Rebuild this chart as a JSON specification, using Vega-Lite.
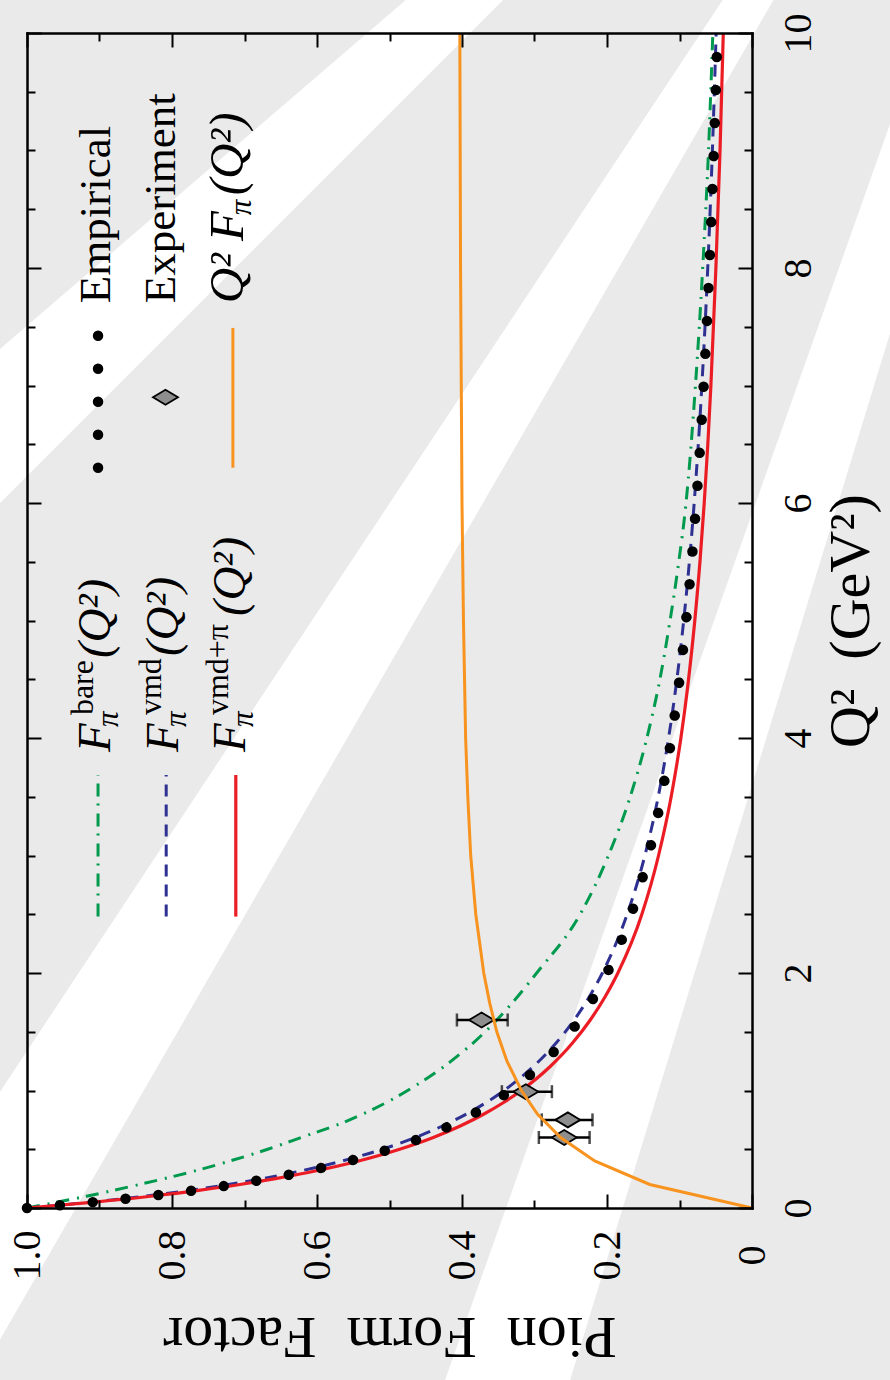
{
  "$schema": "https://vega.github.io/schema/vega-lite/v6.json",
  "width": 725,
  "height": 1175,
  "autosize": {"type": "none"},
  "padding": {"left": 27, "top": 33, "right": 138, "bottom": 172},
  "background": "#eaeaea",
  "config": {"view": {"stroke": null}, "font": "Liberation Serif", "axis": {"labelFont": "Liberation Serif", "titleFont": "Liberation Serif"}},
  "datasets": {
    "bands": [
      {"band": 1, "Q2": 10.451, "a": 0.4455, "b": 0.3159},
      {"band": 1, "Q2": 5.174, "a": 1.44, "b": 1.171},
      {"band": 2, "Q2": 10.451, "a": 0.0221, "b": -0.0455},
      {"band": 2, "Q2": -1.634, "a": 1.3186, "b": 1.0855},
      {"band": 3, "Q2": 10.451, "a": -0.2607, "b": -0.3393},
      {"band": 3, "Q2": -1.634, "a": 0.4331, "b": 0.2593}
    ],
    "emp": [
      {"Q2": 0, "F": 1}, {"Q2": 0.05, "F": 0.90909}, {"Q2": 0.1, "F": 0.83333}, {"Q2": 0.15, "F": 0.76923},
      {"Q2": 0.2, "F": 0.71429}, {"Q2": 0.25, "F": 0.66667}, {"Q2": 0.3, "F": 0.625}, {"Q2": 0.35, "F": 0.58824},
      {"Q2": 0.4, "F": 0.55556}, {"Q2": 0.5, "F": 0.5}, {"Q2": 0.6, "F": 0.45455}, {"Q2": 0.7, "F": 0.41667},
      {"Q2": 0.8, "F": 0.38462}, {"Q2": 0.9, "F": 0.35714}, {"Q2": 1.0, "F": 0.33333}, {"Q2": 1.2, "F": 0.29412},
      {"Q2": 1.4, "F": 0.26316}, {"Q2": 1.6, "F": 0.2381}, {"Q2": 1.8, "F": 0.21739}, {"Q2": 2.0, "F": 0.2},
      {"Q2": 2.25, "F": 0.18182}, {"Q2": 2.5, "F": 0.16667}, {"Q2": 2.75, "F": 0.15385}, {"Q2": 3, "F": 0.14286},
      {"Q2": 3.5, "F": 0.125}, {"Q2": 4, "F": 0.11111}, {"Q2": 4.5, "F": 0.1}, {"Q2": 5, "F": 0.09091},
      {"Q2": 5.5, "F": 0.08333}, {"Q2": 6, "F": 0.07692}, {"Q2": 6.5, "F": 0.07143}, {"Q2": 7, "F": 0.06667},
      {"Q2": 7.5, "F": 0.0625}, {"Q2": 8, "F": 0.05882}, {"Q2": 8.5, "F": 0.05556}, {"Q2": 9, "F": 0.05263},
      {"Q2": 9.5, "F": 0.05}, {"Q2": 10, "F": 0.04762}
    ],
    "bare": [
      {"Q2": 0, "F": 1}, {"Q2": 0.1, "F": 0.918}, {"Q2": 0.2, "F": 0.845}, {"Q2": 0.3, "F": 0.778},
      {"Q2": 0.4, "F": 0.72}, {"Q2": 0.5, "F": 0.668}, {"Q2": 0.6, "F": 0.622}, {"Q2": 0.75, "F": 0.555},
      {"Q2": 1.0, "F": 0.475}, {"Q2": 1.25, "F": 0.415}, {"Q2": 1.5, "F": 0.368}, {"Q2": 1.75, "F": 0.33},
      {"Q2": 2.0, "F": 0.297}, {"Q2": 2.5, "F": 0.237}, {"Q2": 3.0, "F": 0.198}, {"Q2": 3.5, "F": 0.168},
      {"Q2": 4.0, "F": 0.145}, {"Q2": 4.5, "F": 0.127}, {"Q2": 5.0, "F": 0.113}, {"Q2": 5.5, "F": 0.101},
      {"Q2": 6.0, "F": 0.091}, {"Q2": 7.0, "F": 0.078}, {"Q2": 8.0, "F": 0.068}, {"Q2": 9.0, "F": 0.06},
      {"Q2": 10, "F": 0.054}
    ],
    "vmd": [
      {"Q2": 0, "F": 1}, {"Q2": 0.05, "F": 0.91228}, {"Q2": 0.1, "F": 0.83871}, {"Q2": 0.15, "F": 0.77612},
      {"Q2": 0.2, "F": 0.72222}, {"Q2": 0.3, "F": 0.63415}, {"Q2": 0.4, "F": 0.56522}, {"Q2": 0.5, "F": 0.5098},
      {"Q2": 0.6, "F": 0.46429}, {"Q2": 0.7, "F": 0.42623}, {"Q2": 0.8, "F": 0.39394}, {"Q2": 1.0, "F": 0.34211},
      {"Q2": 1.2, "F": 0.30233}, {"Q2": 1.4, "F": 0.27083}, {"Q2": 1.6, "F": 0.24528}, {"Q2": 1.8, "F": 0.22414},
      {"Q2": 2.0, "F": 0.20635}, {"Q2": 2.5, "F": 0.17219}, {"Q2": 3, "F": 0.14773}, {"Q2": 3.5, "F": 0.12935},
      {"Q2": 4, "F": 0.11504}, {"Q2": 4.5, "F": 0.10359}, {"Q2": 5, "F": 0.0942}, {"Q2": 5.5, "F": 0.08637},
      {"Q2": 6, "F": 0.07975}, {"Q2": 7, "F": 0.06915}, {"Q2": 8, "F": 0.06103}, {"Q2": 9, "F": 0.05462},
      {"Q2": 10, "F": 0.04943}
    ],
    "vmdpi": [
      {"Q2": 0, "F": 1}, {"Q2": 0.05, "F": 0.9071}, {"Q2": 0.1, "F": 0.8293}, {"Q2": 0.15, "F": 0.7632},
      {"Q2": 0.2, "F": 0.7063}, {"Q2": 0.25, "F": 0.6572}, {"Q2": 0.3, "F": 0.614}, {"Q2": 0.4, "F": 0.5426},
      {"Q2": 0.5, "F": 0.486}, {"Q2": 0.6, "F": 0.4396}, {"Q2": 0.7, "F": 0.4017}, {"Q2": 0.8, "F": 0.3696},
      {"Q2": 0.9, "F": 0.3421}, {"Q2": 1.0, "F": 0.3183}, {"Q2": 1.2, "F": 0.2791}, {"Q2": 1.4, "F": 0.2482},
      {"Q2": 1.6, "F": 0.2231}, {"Q2": 1.8, "F": 0.2024}, {"Q2": 2.0, "F": 0.185}, {"Q2": 2.5, "F": 0.1519},
      {"Q2": 3, "F": 0.1289}, {"Q2": 3.5, "F": 0.1115}, {"Q2": 4, "F": 0.0981}, {"Q2": 4.5, "F": 0.0875},
      {"Q2": 5, "F": 0.0789}, {"Q2": 5.5, "F": 0.0718}, {"Q2": 6, "F": 0.0659}, {"Q2": 7, "F": 0.0567},
      {"Q2": 8, "F": 0.0498}, {"Q2": 9, "F": 0.0441}, {"Q2": 10, "F": 0.0396}
    ],
    "q2f": [
      {"Q2": 0, "F": 0}, {"Q2": 0.2, "F": 0.141}, {"Q2": 0.4, "F": 0.217}, {"Q2": 0.6, "F": 0.264},
      {"Q2": 0.8, "F": 0.296}, {"Q2": 1.0, "F": 0.318}, {"Q2": 1.25, "F": 0.338}, {"Q2": 1.5, "F": 0.352},
      {"Q2": 1.75, "F": 0.362}, {"Q2": 2.0, "F": 0.37}, {"Q2": 2.5, "F": 0.381}, {"Q2": 3.0, "F": 0.388},
      {"Q2": 3.5, "F": 0.392}, {"Q2": 4.0, "F": 0.395}, {"Q2": 5.0, "F": 0.398}, {"Q2": 6.0, "F": 0.4},
      {"Q2": 7.0, "F": 0.401}, {"Q2": 8.0, "F": 0.402}, {"Q2": 10, "F": 0.403}
    ],
    "exp": [
      {"Q2": 0.6, "F": 0.259, "lo": 0.224, "hi": 0.294},
      {"Q2": 0.75, "F": 0.254, "lo": 0.22, "hi": 0.29},
      {"Q2": 0.99, "F": 0.312, "lo": 0.276, "hi": 0.345},
      {"Q2": 1.6, "F": 0.373, "lo": 0.337, "hi": 0.407}
    ]
  },
  "layer": [
    {
      "data": {"name": "bands"},
      "mark": {"type": "area", "orient": "horizontal", "color": "white", "opacity": 1, "clip": false},
      "encoding": {
        "y": {"field": "Q2", "type": "quantitative", "scale": {"domain": [0, 10], "nice": false, "zero": false}, "axis": null},
        "x": {"field": "a", "type": "quantitative", "scale": {"domain": [0, 1], "reverse": true, "nice": false, "zero": false}, "axis": null},
        "x2": {"field": "b"},
        "detail": {"field": "band", "type": "nominal"}
      }
    },
    {
      "data": {"name": "bare"},
      "mark": {"type": "line", "color": "#009a4e", "strokeWidth": 3, "strokeDash": [13, 8, 2, 7], "interpolate": "monotone"},
      "encoding": {
        "x": {"field": "F", "type": "quantitative", "scale": {"domain": [0, 1], "reverse": true, "nice": false, "zero": false},
          "axis": {"orient": "bottom", "values": [0, 0.2, 0.4, 0.6, 0.8, 1], "ticks": false, "domain": true, "domainColor": "black", "domainWidth": 2.5, "domainCap": "square", "grid": false, "zindex": 1,
            "labelAngle": 270, "labelAlign": "center", "labelBaseline": "middle", "labelPadding": 47,
            "labelFont": "Liberation Serif", "labelFontSize": 40, "labelColor": "black", "labelFlush": false, "labelOverlap": false,
            "labelExpr": "datum.value == 0 ? '0' : format(datum.value, '.1f')",
            "title": "Pion\u2002Form\u2002Factor", "titleAngle": 180, "titleFont": "Liberation Serif", "titleFontSize": 60,
            "titleFontWeight": "normal", "titleColor": "black", "titleBaseline": "alphabetic", "titleAlign": "center", "titlePadding": 37}},
        "y": {"field": "Q2", "type": "quantitative", "scale": {"domain": [0, 10], "nice": false, "zero": false},
          "axis": {"orient": "right", "values": [0, 2, 4, 6, 8, 10], "ticks": false, "domain": true, "domainColor": "black", "domainWidth": 2.5, "domainCap": "square", "grid": false, "zindex": 1,
            "labelAngle": 270, "labelAlign": "center", "labelBaseline": "middle", "labelPadding": 46,
            "labelFont": "Liberation Serif", "labelFontSize": 40, "labelColor": "black", "labelFlush": false, "labelOverlap": false,
            "title": "Q²\u2002(GeV²)", "titleAngle": 270, "titleFont": "Liberation Serif", "titleFontSize": 58,
            "titleFontWeight": "normal", "titleColor": "black", "titleBaseline": "middle", "titleAlign": "center", "titlePadding": 33}},
        "order": {"field": "Q2", "type": "quantitative"}
      }
    },
    {
      "data": {"name": "vmd"},
      "mark": {"type": "line", "color": "#2e3192", "strokeWidth": 3, "strokeDash": [12, 8], "interpolate": "monotone"},
      "encoding": {
        "x": {"field": "F", "type": "quantitative", "scale": {"domain": [0, 1], "reverse": true, "nice": false, "zero": false},
          "axis": {"orient": "bottom", "values": [0, 0.2, 0.4, 0.6, 0.8, 1], "tickSize": -14, "tickWidth": 2, "tickColor": "black", "zindex": 1,
            "labels": false, "domain": false, "grid": false, "title": null}},
        "y": {"field": "Q2", "type": "quantitative", "scale": {"domain": [0, 10], "nice": false, "zero": false},
          "axis": {"orient": "right", "values": [0, 2, 4, 6, 8, 10], "tickSize": -14, "tickWidth": 2, "tickColor": "black", "zindex": 1,
            "labels": false, "domain": false, "grid": false, "title": null}},
        "order": {"field": "Q2", "type": "quantitative"}
      }
    },
    {
      "data": {"name": "vmdpi"},
      "mark": {"type": "line", "color": "#ec1c24", "strokeWidth": 3.2, "interpolate": "monotone"},
      "encoding": {
        "x": {"field": "F", "type": "quantitative", "scale": {"domain": [0, 1], "reverse": true, "nice": false, "zero": false},
          "axis": {"orient": "bottom", "values": [0.1, 0.3, 0.5, 0.7, 0.9], "tickSize": -8, "tickWidth": 2, "tickColor": "black", "zindex": 1,
            "labels": false, "domain": false, "grid": false, "title": null}},
        "y": {"field": "Q2", "type": "quantitative", "scale": {"domain": [0, 10], "nice": false, "zero": false},
          "axis": {"orient": "right", "values": [0.5, 1, 1.5, 2.5, 3, 3.5, 4.5, 5, 5.5, 6.5, 7, 7.5, 8.5, 9, 9.5], "tickSize": -8, "tickWidth": 2, "tickColor": "black", "zindex": 1,
            "labels": false, "domain": false, "grid": false, "title": null}},
        "order": {"field": "Q2", "type": "quantitative"}
      }
    },
    {
      "data": {"name": "emp"},
      "mark": {"type": "line", "color": "black", "strokeWidth": 10.5, "strokeCap": "round", "strokeDash": [0.001, 33], "interpolate": "monotone"},
      "encoding": {
        "x": {"field": "F", "type": "quantitative", "scale": {"domain": [0, 1], "reverse": true, "nice": false, "zero": false},
          "axis": {"orient": "top", "values": [0, 0.2, 0.4, 0.6, 0.8, 1], "tickSize": -14, "tickWidth": 2, "tickColor": "black", "zindex": 1,
            "labels": false, "domain": true, "domainColor": "black", "domainWidth": 2.5, "domainCap": "square", "grid": false, "title": null}},
        "y": {"field": "Q2", "type": "quantitative", "scale": {"domain": [0, 10], "nice": false, "zero": false},
          "axis": {"orient": "left", "values": [0, 2, 4, 6, 8, 10], "tickSize": -14, "tickWidth": 2, "tickColor": "black", "zindex": 1,
            "labels": false, "domain": true, "domainColor": "black", "domainWidth": 2.5, "domainCap": "square", "grid": false, "title": null}},
        "order": {"field": "Q2", "type": "quantitative"}
      }
    },
    {
      "data": {"name": "exp"},
      "mark": {"type": "rule", "color": "black", "strokeWidth": 2.5},
      "encoding": {
        "x": {"field": "lo", "type": "quantitative", "scale": {"domain": [0, 1], "reverse": true, "nice": false, "zero": false},
          "axis": {"orient": "top", "values": [0.1, 0.3, 0.5, 0.7, 0.9], "tickSize": -8, "tickWidth": 2, "tickColor": "black", "zindex": 1,
            "labels": false, "domain": false, "grid": false, "title": null}},
        "x2": {"field": "hi"},
        "y": {"field": "Q2", "type": "quantitative", "scale": {"domain": [0, 10], "nice": false, "zero": false},
          "axis": {"orient": "left", "values": [0.5, 1, 1.5, 2.5, 3, 3.5, 4.5, 5, 5.5, 6.5, 7, 7.5, 8.5, 9, 9.5], "tickSize": -8, "tickWidth": 2, "tickColor": "black", "zindex": 1,
            "labels": false, "domain": false, "grid": false, "title": null}}
      }
    },
    {
      "data": {"name": "exp"},
      "mark": {"type": "tick", "orient": "vertical", "color": "black", "size": 13, "thickness": 2.5},
      "encoding": {
        "x": {"field": "lo", "type": "quantitative", "scale": {"domain": [0, 1], "reverse": true, "nice": false, "zero": false}, "axis": null},
        "y": {"field": "Q2", "type": "quantitative", "scale": {"domain": [0, 10], "nice": false, "zero": false}, "axis": null}
      }
    },
    {
      "data": {"name": "exp"},
      "mark": {"type": "tick", "orient": "vertical", "color": "black", "size": 13, "thickness": 2.5},
      "encoding": {
        "x": {"field": "hi", "type": "quantitative", "scale": {"domain": [0, 1], "reverse": true, "nice": false, "zero": false}, "axis": null},
        "y": {"field": "Q2", "type": "quantitative", "scale": {"domain": [0, 10], "nice": false, "zero": false}, "axis": null}
      }
    },
    {
      "data": {"name": "exp"},
      "mark": {"type": "point", "shape": "M -1 0 L 0 -0.6 L 1 0 L 0 0.6 Z", "size": 625, "filled": true, "fill": "#8e8e8e", "stroke": "black", "strokeWidth": 1.8, "opacity": 1},
      "encoding": {
        "x": {"field": "F", "type": "quantitative", "scale": {"domain": [0, 1], "reverse": true, "nice": false, "zero": false}, "axis": null},
        "y": {"field": "Q2", "type": "quantitative", "scale": {"domain": [0, 10], "nice": false, "zero": false}, "axis": null}
      }
    },
    {
      "data": {"name": "q2f"},
      "mark": {"type": "line", "color": "#f7931e", "strokeWidth": 3},
      "encoding": {
        "x": {"field": "F", "type": "quantitative", "scale": {"domain": [0, 1], "reverse": true, "nice": false, "zero": false}, "axis": null},
        "y": {"field": "Q2", "type": "quantitative", "scale": {"domain": [0, 10], "nice": false, "zero": false}, "axis": null},
        "order": {"field": "Q2", "type": "quantitative"}
      }
    },
    {
      "data": {"values": [{}]},
      "mark": {"type": "rule", "color": "black", "strokeWidth": 10.5, "strokeCap": "round", "strokeDash": [0.001, 33]},
      "encoding": {
        "x": {"datum": 0.902, "type": "quantitative", "axis": null},
        "y": {"datum": 6.3, "type": "quantitative", "axis": null},
        "y2": {"datum": 7.44}
      }
    },
    {
      "data": {"values": [{}]},
      "mark": {"type": "point", "shape": "M -1 0 L 0 -0.6 L 1 0 L 0 0.6 Z", "size": 625, "filled": true, "fill": "#8e8e8e", "stroke": "black", "strokeWidth": 1.8, "opacity": 1},
      "encoding": {
        "x": {"datum": 0.809, "type": "quantitative", "axis": null},
        "y": {"datum": 6.9, "type": "quantitative", "axis": null}
      }
    },
    {
      "data": {"values": [{}]},
      "mark": {"type": "rule", "color": "#f7931e", "strokeWidth": 3},
      "encoding": {
        "x": {"datum": 0.716, "type": "quantitative", "axis": null},
        "y": {"datum": 6.3, "type": "quantitative", "axis": null},
        "y2": {"datum": 7.49}
      }
    },
    {
      "data": {"values": [{}]},
      "mark": {"type": "rule", "color": "#009a4e", "strokeWidth": 3, "strokeDash": [13, 8, 2, 7]},
      "encoding": {
        "x": {"datum": 0.902, "type": "quantitative", "axis": null},
        "y": {"datum": 2.48, "type": "quantitative", "axis": null},
        "y2": {"datum": 3.685}
      }
    },
    {
      "data": {"values": [{}]},
      "mark": {"type": "rule", "color": "#2e3192", "strokeWidth": 3, "strokeDash": [12, 8]},
      "encoding": {
        "x": {"datum": 0.808, "type": "quantitative", "axis": null},
        "y": {"datum": 2.48, "type": "quantitative", "axis": null},
        "y2": {"datum": 3.685}
      }
    },
    {
      "data": {"values": [{}]},
      "mark": {"type": "rule", "color": "#ec1c24", "strokeWidth": 3.2},
      "encoding": {
        "x": {"datum": 0.712, "type": "quantitative", "axis": null},
        "y": {"datum": 2.48, "type": "quantitative", "axis": null},
        "y2": {"datum": 3.685}
      }
    },
    {
      "data": {"values": [{}]},
      "mark": {"type": "text", "text": "Empirical", "angle": 270, "align": "left", "baseline": "alphabetic", "font": "Liberation Serif", "fontSize": 45, "color": "black"},
      "encoding": {"x": {"datum": 0.885, "type": "quantitative", "axis": null}, "y": {"datum": 7.7, "type": "quantitative", "axis": null}}
    },
    {
      "data": {"values": [{}]},
      "mark": {"type": "text", "text": "Experiment", "angle": 270, "align": "left", "baseline": "alphabetic", "font": "Liberation Serif", "fontSize": 45, "color": "black"},
      "encoding": {"x": {"datum": 0.796, "type": "quantitative", "axis": null}, "y": {"datum": 7.7, "type": "quantitative", "axis": null}}
    },
    {
      "data": {"values": [{}]},
      "mark": {"type": "text", "text": "Q² F", "angle": 270, "align": "left", "baseline": "alphabetic", "font": "Liberation Serif", "fontStyle": "italic", "fontSize": 49, "color": "black"},
      "encoding": {"x": {"datum": 0.702, "type": "quantitative", "axis": null}, "y": {"datum": 7.7, "type": "quantitative", "axis": null}}
    },
    {
      "data": {"values": [{}]},
      "mark": {"type": "text", "text": "π", "angle": 270, "align": "left", "baseline": "alphabetic", "font": "Liberation Serif", "fontStyle": "italic", "fontSize": 31, "dx": 88, "dy": 8, "color": "black"},
      "encoding": {"x": {"datum": 0.702, "type": "quantitative", "axis": null}, "y": {"datum": 7.7, "type": "quantitative", "axis": null}}
    },
    {
      "data": {"values": [{}]},
      "mark": {"type": "text", "text": "(Q²)", "angle": 270, "align": "left", "baseline": "alphabetic", "font": "Liberation Serif", "fontStyle": "italic", "fontSize": 49, "dx": 108, "color": "black"},
      "encoding": {"x": {"datum": 0.702, "type": "quantitative", "axis": null}, "y": {"datum": 7.7, "type": "quantitative", "axis": null}}
    },
    {
      "data": {"values": [{}]},
      "mark": {"type": "text", "text": "F", "angle": 270, "align": "left", "baseline": "alphabetic", "font": "Liberation Serif", "fontStyle": "italic", "fontSize": 47, "color": "black"},
      "encoding": {"x": {"datum": 0.885, "type": "quantitative", "axis": null}, "y": {"datum": 3.88, "type": "quantitative", "axis": null}}
    },
    {
      "data": {"values": [{}]},
      "mark": {"type": "text", "text": "π", "angle": 270, "align": "left", "baseline": "alphabetic", "font": "Liberation Serif", "fontStyle": "italic", "fontSize": 31, "dx": 25, "dy": 8, "color": "black"},
      "encoding": {"x": {"datum": 0.885, "type": "quantitative", "axis": null}, "y": {"datum": 3.88, "type": "quantitative", "axis": null}}
    },
    {
      "data": {"values": [{}]},
      "mark": {"type": "text", "text": "bare", "angle": 270, "align": "left", "baseline": "alphabetic", "font": "Liberation Serif", "fontSize": 32, "dx": 37, "dy": -17, "color": "black"},
      "encoding": {"x": {"datum": 0.885, "type": "quantitative", "axis": null}, "y": {"datum": 3.88, "type": "quantitative", "axis": null}}
    },
    {
      "data": {"values": [{}]},
      "mark": {"type": "text", "text": "(Q²)", "angle": 270, "align": "left", "baseline": "alphabetic", "font": "Liberation Serif", "fontStyle": "italic", "fontSize": 47, "dx": 94, "color": "black"},
      "encoding": {"x": {"datum": 0.885, "type": "quantitative", "axis": null}, "y": {"datum": 3.88, "type": "quantitative", "axis": null}}
    },
    {
      "data": {"values": [{}]},
      "mark": {"type": "text", "text": "F", "angle": 270, "align": "left", "baseline": "alphabetic", "font": "Liberation Serif", "fontStyle": "italic", "fontSize": 47, "color": "black"},
      "encoding": {"x": {"datum": 0.792, "type": "quantitative", "axis": null}, "y": {"datum": 3.88, "type": "quantitative", "axis": null}}
    },
    {
      "data": {"values": [{}]},
      "mark": {"type": "text", "text": "π", "angle": 270, "align": "left", "baseline": "alphabetic", "font": "Liberation Serif", "fontStyle": "italic", "fontSize": 31, "dx": 25, "dy": 8, "color": "black"},
      "encoding": {"x": {"datum": 0.792, "type": "quantitative", "axis": null}, "y": {"datum": 3.88, "type": "quantitative", "axis": null}}
    },
    {
      "data": {"values": [{}]},
      "mark": {"type": "text", "text": "vmd", "angle": 270, "align": "left", "baseline": "alphabetic", "font": "Liberation Serif", "fontSize": 32, "dx": 37, "dy": -17, "color": "black"},
      "encoding": {"x": {"datum": 0.792, "type": "quantitative", "axis": null}, "y": {"datum": 3.88, "type": "quantitative", "axis": null}}
    },
    {
      "data": {"values": [{}]},
      "mark": {"type": "text", "text": "(Q²)", "angle": 270, "align": "left", "baseline": "alphabetic", "font": "Liberation Serif", "fontStyle": "italic", "fontSize": 47, "dx": 96, "color": "black"},
      "encoding": {"x": {"datum": 0.792, "type": "quantitative", "axis": null}, "y": {"datum": 3.88, "type": "quantitative", "axis": null}}
    },
    {
      "data": {"values": [{}]},
      "mark": {"type": "text", "text": "F", "angle": 270, "align": "left", "baseline": "alphabetic", "font": "Liberation Serif", "fontStyle": "italic", "fontSize": 47, "color": "black"},
      "encoding": {"x": {"datum": 0.699, "type": "quantitative", "axis": null}, "y": {"datum": 3.88, "type": "quantitative", "axis": null}}
    },
    {
      "data": {"values": [{}]},
      "mark": {"type": "text", "text": "π", "angle": 270, "align": "left", "baseline": "alphabetic", "font": "Liberation Serif", "fontStyle": "italic", "fontSize": 31, "dx": 25, "dy": 8, "color": "black"},
      "encoding": {"x": {"datum": 0.699, "type": "quantitative", "axis": null}, "y": {"datum": 3.88, "type": "quantitative", "axis": null}}
    },
    {
      "data": {"values": [{}]},
      "mark": {"type": "text", "text": "vmd+π", "angle": 270, "align": "left", "baseline": "alphabetic", "font": "Liberation Serif", "fontSize": 32, "dx": 37, "dy": -17, "color": "black"},
      "encoding": {"x": {"datum": 0.699, "type": "quantitative", "axis": null}, "y": {"datum": 3.88, "type": "quantitative", "axis": null}}
    },
    {
      "data": {"values": [{}]},
      "mark": {"type": "text", "text": "(Q²)", "angle": 270, "align": "left", "baseline": "alphabetic", "font": "Liberation Serif", "fontStyle": "italic", "fontSize": 47, "dx": 136, "color": "black"},
      "encoding": {"x": {"datum": 0.699, "type": "quantitative", "axis": null}, "y": {"datum": 3.88, "type": "quantitative", "axis": null}}
    }
  ],
  "resolve": {"axis": {"x": "independent", "y": "independent"}}
}
